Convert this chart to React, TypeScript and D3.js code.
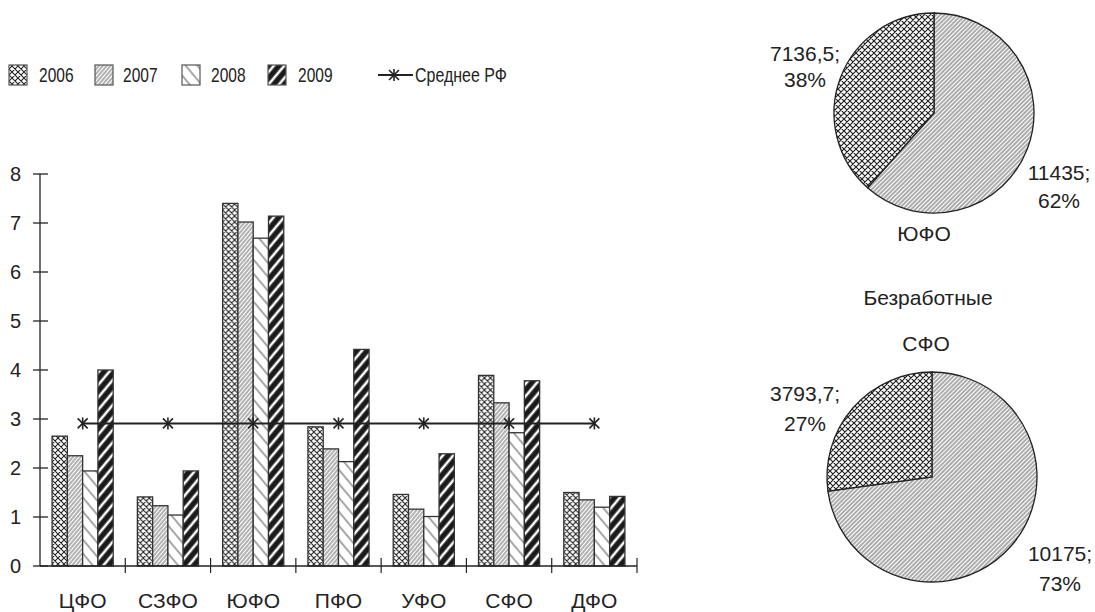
import React from 'react';
import * as d3 from 'd3';

const regions = ['ЦФО', 'СЗФО', 'ЮФО', 'ПФО', 'УФО', 'СФО', 'ДФО'];
const years = ['2006', '2007', '2008', '2009'];
const v2006 = [2.65, 1.41, 7.4, 2.84, 1.46, 3.89, 1.5];
const v2007 = [2.25, 1.23, 7.02, 2.39, 1.16, 3.33, 1.35];
const v2008 = [1.94, 1.04, 6.69, 2.13, 1.01, 2.72, 1.2];
const v2009 = [4.0, 1.94, 7.14, 4.42, 2.29, 3.78, 1.42];
const avgRF = [2.91, 2.91, 2.91, 2.91, 2.91, 2.91, 2.91];
const avgLabel = 'Среднее РФ';
const yTicks = [0, 1, 2, 3, 4, 5, 6, 7, 8];

const pieUFOValues = [11435, 7136.5];
const pieUFOLabels = [['11435;', '62%'], ['7136,5;', '38%']];
const pieUFOTitle = 'ЮФО';
const pieSFOValues = [10175, 3793.7];
const pieSFOLabels = [['10175;', '73%'], ['3793,7;', '27%']];
const pieSFOTitle = 'СФО';
const pieHeader = 'Безработные';

const FONT = "'Liberation Sans', Arial, Helvetica, sans-serif";
const INK = '#222';

const series = [v2006, v2007, v2008, v2009];
const fills = ['url(#p2006)', 'url(#p2007)', 'url(#p2008)', 'url(#p2009)'];

function Star({ x, y }: { x: number; y: number }) {
  const s = 5;
  return (
    <g stroke={INK} strokeWidth={1.6}>
      <line x1={x} y1={y - s - 1} x2={x} y2={y + s + 1} />
      <line x1={x - s} y1={y - s} x2={x + s} y2={y + s} />
      <line x1={x - s} y1={y + s} x2={x + s} y2={y - s} />
    </g>
  );
}

function T({ x, y, children, anchor = 'middle', size = 21, sx = 1 }: any) {
  return (
    <g transform={`translate(${x},${y}) scale(${sx},1)`}>
      <text x={0} y={0} textAnchor={anchor} dominantBaseline="central" fontSize={size} fill={INK} fontFamily={FONT}>
        {children}
      </text>
    </g>
  );
}

function Pie({ cx, cy, r, values, labels, labelPos, gaps }: any) {
  const pie = d3.pie<number>().sort(null).startAngle(0).endAngle(2 * Math.PI)(values);
  const arc = d3.arc<any>().innerRadius(0).outerRadius(r);
  const pf = ['url(#pie2007)', 'url(#pie2006)'];
  return (
    <g>
      {pie.map((p, i) => (
        <path key={i} d={arc(p) as string} transform={`translate(${cx},${cy})`} fill={pf[i]} stroke={INK} strokeWidth={1.3} />
      ))}
      {labels.map((lines: string[], i: number) =>
        lines.map((ln, j) => (
          <T key={`${i}-${j}`} x={labelPos[i][0]} y={labelPos[i][1] + j * gaps[i]}>{ln}</T>
        ))
      )}
    </g>
  );
}

export default function App() {
  const W = 1095, H = 612;
  const x0 = d3.scaleBand<string>().domain(regions).range([40, 637]).paddingInner(0).paddingOuter(0);
  const x1 = d3.scaleBand<string>().domain(years).range([0, x0.bandwidth()]).paddingInner(0).paddingOuter(0.79);
  const y = d3.scaleLinear().domain([0, 8]).range([566, 174]);

  const avgLine = d3.line<number>()
    .x((_, i) => (x0(regions[i]) as number) + x0.bandwidth() / 2)
    .y((d) => y(d));

  const legendItems = [
    { x: 9, tx: 39 },
    { x: 95, tx: 123 },
    { x: 182, tx: 211 },
    { x: 268, tx: 298 },
  ];

  return (
    <svg width={W} height={H} style={{ position: 'absolute', left: 0, top: 0, background: '#fff' }} fontFamily={FONT}>
      <defs>
        <pattern id="p2006" patternUnits="userSpaceOnUse" width={6} height={6}>
          <rect width={6} height={6} fill="#fff" />
          <path d="M0,0L6,6M0,6L6,0M-1,5L1,7M5,-1L7,1M-1,1L1,-1M5,7L7,5" stroke={INK} strokeWidth={1.1} />
        </pattern>
        <pattern id="p2007" patternUnits="userSpaceOnUse" width={3} height={10} patternTransform="rotate(40)">
          <rect width={3} height={10} fill="#fff" />
          <line x1={1} y1={0} x2={1} y2={10} stroke={INK} strokeWidth={0.7} />
        </pattern>
        <pattern id="p2008" patternUnits="userSpaceOnUse" width={9} height={10} patternTransform="rotate(-40)">
          <rect width={9} height={10} fill="#fff" />
          <line x1={1} y1={0} x2={1} y2={10} stroke={INK} strokeWidth={0.8} />
        </pattern>
        <pattern id="p2009" patternUnits="userSpaceOnUse" width={8} height={10} patternTransform="rotate(40)">
          <rect width={8} height={10} fill="#1a1a1a" />
          <line x1={4} y1={0} x2={4} y2={10} stroke="#fff" strokeWidth={2.6} />
        </pattern>
        <pattern id="pie2006" patternUnits="userSpaceOnUse" width={6} height={6}>
          <rect width={6} height={6} fill="#fff" />
          <path d="M0,0L6,6M0,6L6,0M-1,5L1,7M5,-1L7,1M-1,1L1,-1M5,7L7,5" stroke={INK} strokeWidth={1.2} />
        </pattern>
        <pattern id="pie2007" patternUnits="userSpaceOnUse" width={3} height={10} patternTransform="rotate(45)">
          <rect width={3} height={10} fill="#fff" />
          <line x1={1} y1={0} x2={1} y2={10} stroke={INK} strokeWidth={0.75} />
        </pattern>
      </defs>

      {/* Legend */}
      {legendItems.map((it, i) => (
        <g key={years[i]}>
          <rect x={it.x} y={65} width={18} height={20} fill={fills[i]} stroke="#555" strokeWidth={1.2} />
          <T x={it.tx} y={75} anchor="start" sx={0.74}>{years[i]}</T>
        </g>
      ))}
      <line x1={378} x2={413} y1={75} y2={75} stroke={INK} strokeWidth={1.8} />
      <Star x={394} y={75} />
      <T x={415} y={75} anchor="start" sx={0.76}>{avgLabel}</T>

      {/* Bars */}
      {regions.map((reg, ri) => (
        <g key={reg} transform={`translate(${x0(reg)},0)`}>
          {series.map((s, si) => (
            <rect
              key={si}
              x={x1(years[si])}
              y={y(s[ri])}
              width={x1.bandwidth()}
              height={y(0) - y(s[ri])}
              fill={fills[si]}
              stroke="#333"
              strokeWidth={1.3}
            />
          ))}
        </g>
      ))}

      {/* Axes */}
      <line x1={40} x2={40} y1={174} y2={566} stroke={INK} strokeWidth={1.3} />
      {yTicks.map((t) => (
        <g key={t}>
          <line x1={33} x2={48} y1={y(t)} y2={y(t)} stroke={INK} strokeWidth={1.3} />
          <T x={21} y={y(t)} anchor="end" size={20}>{t}</T>
        </g>
      ))}
      <line x1={40} x2={637} y1={566} y2={566} stroke={INK} strokeWidth={1.3} />
      {regions.map((reg) => (
        <line key={reg} x1={(x0(reg) as number) + x0.bandwidth()} x2={(x0(reg) as number) + x0.bandwidth()} y1={558} y2={573} stroke={INK} strokeWidth={1.2} />
      ))}
      {regions.map((reg) => (
        <T key={reg} x={(x0(reg) as number) + x0.bandwidth() / 2} y={600}>{reg}</T>
      ))}

      {/* Average line */}
      <path d={avgLine(avgRF) as string} fill="none" stroke={INK} strokeWidth={2} />
      {avgRF.map((v, i) => (
        <Star key={i} x={(x0(regions[i]) as number) + x0.bandwidth() / 2} y={y(v)} />
      ))}

      {/* Pies */}
      <Pie cx={934} cy={113} r={100} values={pieUFOValues} labels={pieUFOLabels} labelPos={[[1059, 172], [805, 53]]} gaps={[28, 26]} />
      <T x={924} y={233}>{pieUFOTitle}</T>
      <T x={928} y={297}>{pieHeader}</T>
      <T x={926} y={343}>{pieSFOTitle}</T>
      <Pie cx={932} cy={477} r={105} values={pieSFOValues} labels={pieSFOLabels} labelPos={[[1060, 553], [805, 393]]} gaps={[30, 30]} />
    </svg>
  );
}
